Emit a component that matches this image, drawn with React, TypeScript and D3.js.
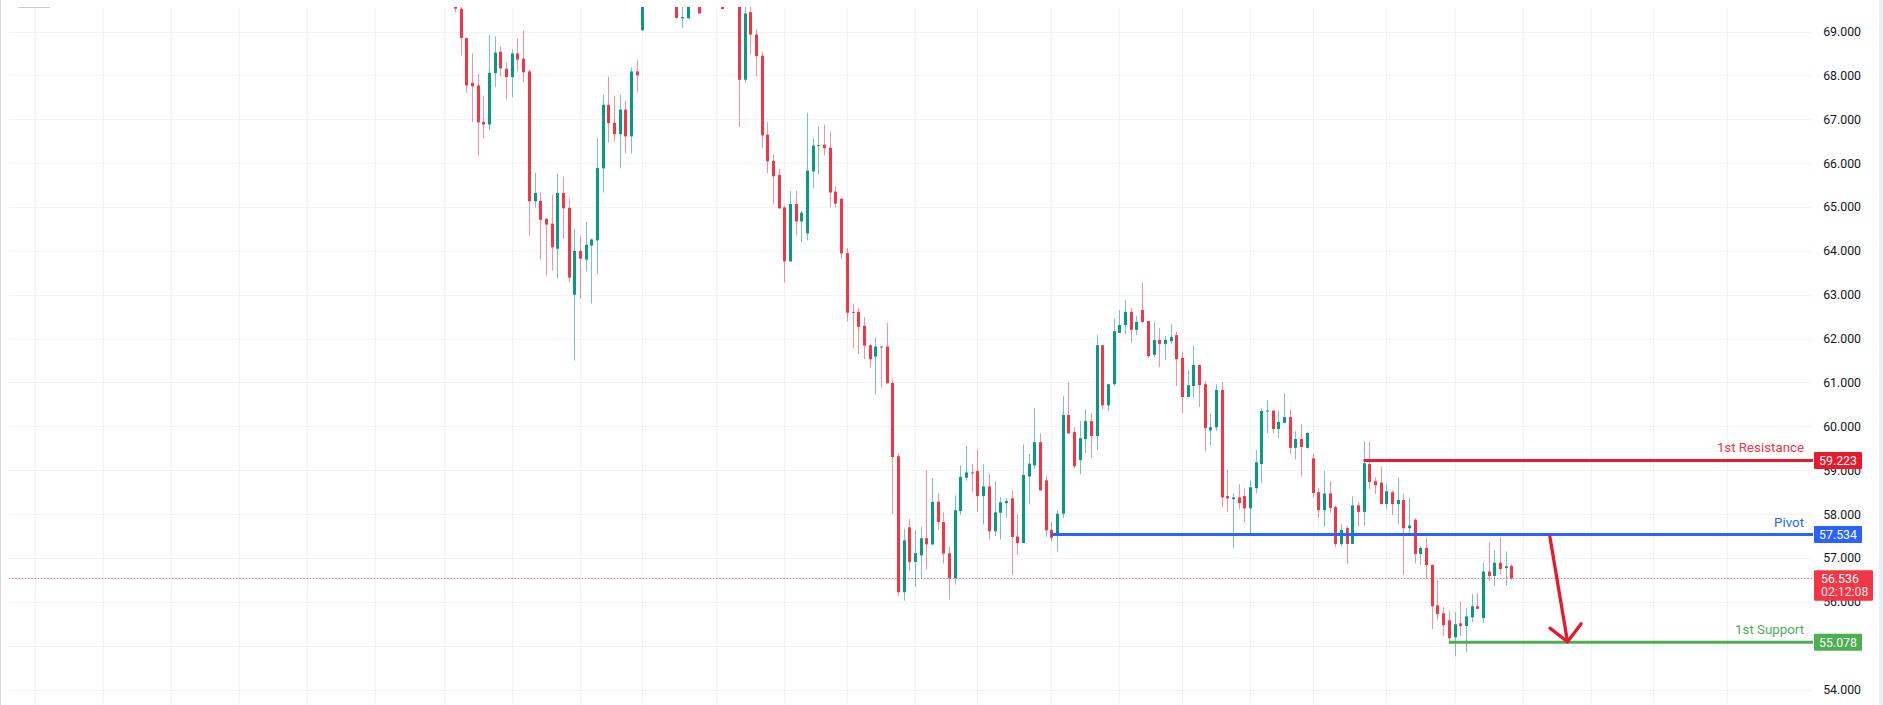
import React from 'react';
import * as d3 from 'd3';

// ---- candle data (oldest first) ----
const opens = [
  69.60, 69.52, 68.85, 67.83, 67.77, 66.94, 66.88, 68.05, 68.54, 68.15,
  67.96, 68.50, 68.38, 68.09, 65.13, 65.14, 64.73, 64.62, 64.05, 65.32,
  64.98, 63.00, 64.00, 63.80, 64.12, 64.24, 65.88, 67.33, 66.92, 66.66,
  67.22, 66.61, 68.09, 69.03, 70.30, 70.70, 70.50, 70.20, 70.40, 69.95,
  69.30, 69.30, 69.95, 70.05, 69.80, 70.10, 70.30, 69.95, 69.80, 70.05,
  69.95, 67.90, 69.44, 68.93, 68.45, 66.65, 66.05, 65.73, 64.99, 63.76,
  65.07, 64.67, 64.40, 65.81, 66.40, 66.42, 66.35, 65.35, 65.19, 63.95,
  62.61, 62.61, 62.29, 61.85, 61.59, 61.82, 61.82, 60.99, 59.32, 56.22,
  57.70, 56.91, 57.06, 57.45, 57.31, 58.28, 57.82, 57.11, 56.54, 58.07,
  58.83, 58.95, 58.98, 58.41, 58.63, 57.61, 58.03, 58.25, 58.36, 57.49,
  57.34, 58.86, 59.11, 59.64, 58.77, 57.64, 57.53, 58.01, 60.26, 59.87,
  59.23, 59.71, 60.12, 59.78, 61.85, 60.48, 60.96, 62.13, 62.31, 62.61,
  62.20, 62.65, 62.40, 61.63, 61.97, 61.88, 61.94, 62.08, 61.56, 60.67,
  60.92, 61.40, 60.96, 59.91, 59.98, 60.83, 58.41, 58.34, 58.38, 58.41,
  58.13, 58.59, 59.14, 60.35, 60.36, 59.94, 60.08, 60.21, 59.51, 59.71,
  59.51, 59.27, 58.50, 58.09, 58.47, 58.16, 57.32, 57.68, 57.32, 58.20,
  58.05, 59.14, 58.75, 58.72, 58.23, 58.50, 58.23, 58.32, 57.68, 57.87,
  57.09, 57.23, 56.84, 55.92, 55.74, 55.58, 55.19, 55.51, 55.45, 55.65,
  55.90, 55.63, 56.69, 56.59, 56.89, 56.77, 56.82,
];
const highs = [
  69.85, 69.90, 68.85, 68.50, 68.04, 67.54, 68.93, 68.89, 68.66, 68.29,
  68.59, 68.84, 69.02, 68.13, 65.78, 65.34, 64.75, 65.28, 65.76, 65.69,
  65.19, 64.50, 64.34, 64.66, 64.28, 66.58, 67.56, 67.97, 67.54, 67.56,
  67.42, 68.18, 68.36, 70.60, 70.90, 71.20, 70.80, 70.60, 70.70, 70.20,
  69.90, 70.20, 70.40, 70.30, 70.30, 70.50, 70.60, 70.20, 70.30, 70.40,
  70.20, 69.80, 69.75, 69.05, 68.54, 66.94, 66.19, 65.87, 65.03, 65.37,
  65.37, 64.91, 67.15, 66.56, 66.83, 66.88, 66.72, 65.48, 65.19, 64.07,
  62.80, 62.70, 62.49, 61.89, 62.02, 61.83, 62.36, 61.08, 59.38, 57.67,
  57.89, 57.63, 57.71, 59.00, 58.82, 58.48, 58.04, 57.25, 58.43, 59.11,
  59.56, 59.14, 59.48, 59.14, 58.92, 58.75, 58.39, 58.36, 58.54, 57.99,
  59.59, 59.37, 60.42, 59.84, 58.86, 57.81, 58.09, 60.69, 61.00, 59.98,
  60.12, 60.39, 60.30, 62.08, 61.85, 60.96, 62.45, 62.65, 62.88, 62.70,
  62.52, 63.27, 62.40, 62.38, 62.24, 62.06, 62.33, 62.15, 61.70, 61.28,
  61.85, 61.40, 61.03, 60.30, 60.96, 61.01, 59.02, 58.47, 58.68, 58.59,
  58.77, 59.46, 60.41, 60.60, 60.36, 60.35, 60.76, 60.39, 59.89, 60.05,
  59.88, 59.37, 58.59, 58.98, 58.75, 58.20, 57.77, 57.73, 58.41, 58.27,
  59.66, 59.66, 58.84, 59.07, 58.70, 58.54, 58.84, 58.45, 58.38, 57.91,
  57.27, 57.45, 56.86, 56.49, 55.88, 55.79, 55.77, 56.00, 55.86, 56.18,
  56.20, 56.89, 57.36, 57.18, 57.48, 57.15, 56.86,
];
const lows = [
  69.44, 68.46, 67.60, 66.93, 66.18, 66.56, 66.75, 67.73, 67.98, 67.45,
  67.50, 68.09, 67.84, 64.35, 64.99, 63.80, 63.44, 63.55, 63.37, 64.27,
  63.30, 61.50, 62.91, 63.53, 62.80, 63.48, 65.33, 66.47, 66.50, 65.88,
  66.22, 66.22, 67.61, 69.01, 70.05, 70.30, 69.95, 69.85, 69.95, 69.29,
  69.08, 69.29, 69.70, 69.41, 69.65, 69.90, 69.80, 69.51, 69.56, 69.75,
  66.82, 67.83, 68.47, 67.98, 66.34, 65.77, 65.06, 64.95, 63.28, 63.76,
  64.35, 64.19, 64.24, 65.42, 65.74, 66.18, 64.99, 64.99, 63.82, 62.39,
  61.79, 61.66, 61.53, 61.34, 60.72, 60.89, 60.98, 58.01, 56.13, 56.03,
  56.70, 56.34, 56.52, 56.74, 57.29, 57.64, 56.87, 56.05, 56.39, 57.99,
  58.76, 58.50, 58.05, 57.76, 57.42, 57.50, 57.42, 57.92, 56.61, 57.07,
  57.34, 58.22, 59.02, 58.54, 57.48, 57.38, 57.15, 57.91, 59.84, 59.04,
  58.91, 59.39, 59.27, 59.46, 60.39, 60.35, 60.92, 62.13, 62.10, 61.90,
  62.08, 62.36, 61.56, 61.58, 61.35, 61.51, 61.88, 60.92, 60.30, 60.67,
  60.64, 60.44, 59.43, 59.57, 59.89, 58.16, 58.04, 57.22, 58.11, 57.81,
  57.56, 58.47, 58.70, 59.85, 59.85, 59.73, 60.08, 59.37, 59.25, 58.86,
  59.49, 58.38, 57.91, 57.71, 58.03, 57.25, 57.27, 56.86, 57.32, 57.71,
  57.73, 58.57, 58.46, 58.22, 58.12, 57.98, 57.77, 56.61, 57.59, 56.88,
  56.84, 56.54, 55.38, 55.58, 55.22, 55.04, 54.76, 55.22, 54.85, 55.54,
  55.84, 55.52, 56.47, 56.36, 56.63, 56.38, 56.50,
];
const closes = [
  69.52, 68.85, 67.77, 67.75, 66.93, 66.88, 68.06, 68.52, 68.16, 67.96,
  68.50, 68.36, 68.07, 65.13, 65.32, 64.71, 64.60, 64.08, 65.32, 64.97,
  63.39, 64.00, 63.82, 64.14, 64.26, 65.89, 67.33, 66.91, 66.66, 67.22,
  66.61, 68.09, 68.00, 70.30, 70.70, 70.50, 70.20, 70.40, 70.10, 69.31,
  69.33, 69.95, 70.10, 69.41, 70.10, 70.30, 69.95, 69.51, 70.05, 70.00,
  67.90, 69.41, 68.93, 68.44, 66.63, 66.04, 65.70, 64.97, 63.76, 65.07,
  64.67, 64.87, 65.83, 66.40, 66.41, 66.34, 65.33, 65.08, 63.94, 62.59,
  62.59, 62.27, 61.84, 61.53, 61.82, 61.80, 60.98, 59.30, 56.22, 57.40,
  56.91, 57.11, 57.45, 57.31, 58.28, 57.82, 57.10, 56.54, 58.09, 58.85,
  58.95, 58.94, 58.41, 58.63, 57.61, 58.04, 58.27, 58.30, 57.48, 57.34,
  58.89, 59.15, 59.64, 58.54, 57.63, 57.46, 58.01, 60.26, 59.84, 59.09,
  59.73, 60.12, 59.78, 61.85, 60.48, 60.96, 62.17, 62.31, 62.61, 62.20,
  62.38, 62.38, 61.60, 61.97, 61.88, 61.97, 62.04, 61.53, 60.67, 60.94,
  61.40, 60.94, 59.96, 59.98, 60.83, 58.38, 58.36, 58.38, 58.25, 58.13,
  58.61, 59.18, 60.35, 60.36, 59.94, 60.10, 60.21, 59.51, 59.71, 59.53,
  59.85, 58.48, 58.09, 58.47, 58.14, 57.32, 57.64, 57.32, 58.20, 58.05,
  59.16, 58.73, 58.66, 58.23, 58.52, 58.23, 58.32, 57.68, 57.74, 57.09,
  57.23, 56.84, 55.90, 55.72, 55.47, 55.17, 55.49, 55.45, 55.67, 55.90,
  55.84, 56.69, 56.59, 56.89, 56.75, 56.81, 56.536,
];

// price axis labels and time grid (bar index where each vertical grid line sits)
const priceTicks = [54, 55, 56, 57, 58, 59, 60, 61, 62, 63, 64, 65, 66, 67, 68, 69];
const timeGridBars = [-74, -62, -50, -38, -26, -14, -2, 10, 22, 33, 46, 58, 69, 81,
  92, 105, 117, 128, 140, 151, 164, 176, 188, 200, 211, 224];

// drawn levels
const levelNames = ['1st Resistance', 'Pivot', '1st Support'];
const levelValues = [59.223, 57.534, 55.078];
const levelStartBars = [160, 105, 175];
const levelColors = ['#e8192c', '#2962ff', '#4caf50'];
const levelTextColors = ['#f23645', '#2962ff', '#4caf50'];

// hand-drawn arrow: shaft from pivot down to support, plus two wings
const arrowBars = [192.8, 195.9];
const arrowPrices = [57.48, 55.09];
const wingBars = [192.8, 198.3];
const wingPrices = [55.40, 55.50];

const countdown = '02:12:08';

const UP = '#089981';
const DOWN = '#f23645';
const FONT = 'Roboto, "Liberation Sans", sans-serif';

export default function App() {
  const width = 1883;
  const height = 705;
  const plotLeft = 9;
  const plotRight = 1813;
  const plotTop = 7;

  const x = d3.scaleLinear().domain([0, closes.length - 1]).range([455, 1511.3]);
  const y = d3.scaleLinear().domain([54, 69]).range([689.6, 31.5]);

  const bars = closes.map((c, i) => ({ i, o: opens[i], h: highs[i], l: lows[i], c }));
  const last = closes[closes.length - 1];

  const shaft = d3.line<[number, number]>()([
    [x(arrowBars[0]), y(arrowPrices[0])],
    [x(arrowBars[1]), y(arrowPrices[1])],
  ]);
  const wings = d3.line<[number, number]>()([
    [x(wingBars[0]), y(wingPrices[0])],
    [x(arrowBars[1]), y(arrowPrices[1])],
    [x(wingBars[1]), y(wingPrices[1])],
  ]);

  return (
    <svg width={width} height={height}
      style={{ position: 'fixed', left: 0, top: 0, display: 'block', background: '#fff' }}
      fontFamily={FONT}>
      <defs>
        <clipPath id="plotClip">
          <rect x={plotLeft} y={plotTop} width={plotRight - plotLeft} height={height - plotTop} />
        </clipPath>
      </defs>

      {/* grid */}
      <g stroke="#f0f3fa" strokeWidth={1}>
        {timeGridBars.map(b => {
          const gx = Math.round(x(b)) + 0.5;
          return gx > plotLeft && gx < plotRight
            ? <line key={'v' + b} x1={gx} x2={gx} y1={plotTop} y2={height} />
            : null;
        })}
        {priceTicks.map(p => (
          <line key={'h' + p} x1={plotLeft} x2={plotRight}
            y1={Math.round(y(p)) + 0.5} y2={Math.round(y(p)) + 0.5} />
        ))}
      </g>

      {/* borders */}
      <line x1={0.5} x2={0.5} y1={0} y2={height} stroke="#d6d8de" />
      <rect x={1879} y={0} width={4} height={height} fill="#eceef2" />
      <line x1={18} x2={50} y1={7.5} y2={7.5} stroke="#c8cbd2" />

      {/* candles */}
      <g clipPath="url(#plotClip)">
        {bars.map(d => {
          const cx = Math.round(x(d.i));
          const color = d.c >= d.o ? UP : DOWN;
          const top = Math.min(y(d.o), y(d.c));
          const bh = Math.max(1, Math.abs(y(d.o) - y(d.c)));
          return (
            <g key={d.i}>
              <rect x={cx} y={y(d.h)} width={1} height={y(d.l) - y(d.h)} fill={color} opacity={0.55} />
              <rect x={cx - 1} y={top} width={3} height={bh} fill={color} />
            </g>
          );
        })}

        {/* last price line */}
        <line x1={plotLeft} x2={plotRight} y1={y(last)} y2={y(last)}
          stroke={DOWN} strokeWidth={1} strokeDasharray="1.3,1.9" opacity={0.85} />

        {/* levels */}
        {levelValues.map((v, k) => (
          <g key={levelNames[k]}>
            <line x1={x(levelStartBars[k])} x2={plotRight + 1} y1={y(v)} y2={y(v)}
              stroke={levelColors[k]} strokeWidth={3} />
            <text x={plotRight - 9} y={y(v) - 8} textAnchor="end" fontSize={13.3}
              fill={levelTextColors[k]}>{levelNames[k]}</text>
          </g>
        ))}

        {/* arrow */}
        <path d={shaft ?? ''} fill="none" stroke="#e8192c" strokeWidth={3.3} strokeLinecap="round" />
        <path d={wings ?? ''} fill="none" stroke="#e8192c" strokeWidth={3.3}
          strokeLinecap="round" strokeLinejoin="round" />
      </g>

      {/* price axis */}
      <g fontSize={12.3} fill="#131722" textAnchor="end">
        {priceTicks.map(p => (
          <text key={p} x={1861} y={y(p)} dy="0.36em">{p.toFixed(3)}</text>
        ))}
      </g>

      {/* level labels on the axis */}
      {levelValues.map((v, k) => (
        <g key={'lab' + k}>
          <rect x={plotRight + 1} y={y(v) - 8.5} width={48} height={17} rx={1} fill={levelColors[k]} />
          <text x={plotRight + 25} y={y(v)} dy="0.36em" textAnchor="middle"
            fontSize={12.3} fill="#fff">{v.toFixed(3)}</text>
        </g>
      ))}

      {/* last price label */}
      <g>
        <rect x={plotRight + 1} y={y(last) - 8} width={59} height={30.5} rx={1} fill={DOWN} />
        <text x={plotRight + 8} y={y(last)} dy="0.36em" fontSize={12.3} fill="#fff">{last.toFixed(3)}</text>
        <text x={plotRight + 8} y={y(last) + 13.3} dy="0.36em" fontSize={12.3} fill="#fff"
          opacity={0.85}>{countdown}</text>
      </g>
    </svg>
  );
}
